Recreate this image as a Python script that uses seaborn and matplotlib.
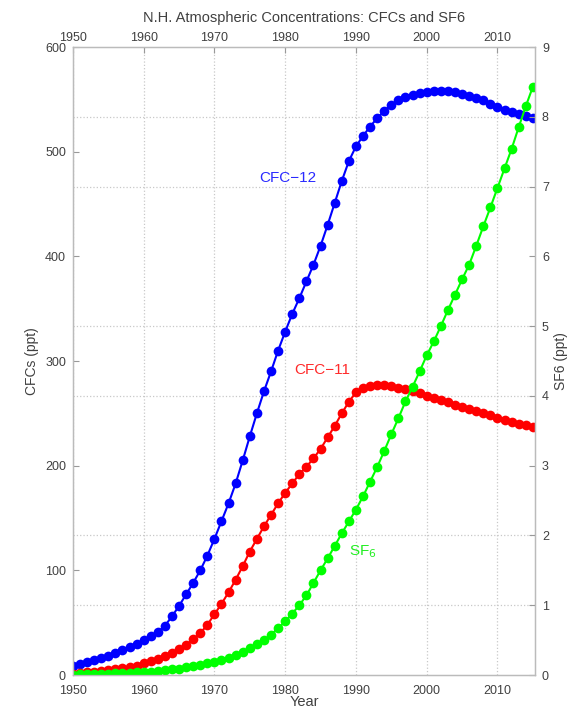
import matplotlib
matplotlib.use("Agg")
import matplotlib.pyplot as plt
from matplotlib.ticker import FixedLocator
import numpy as np
import pandas as pd
import seaborn as sns

# annual values
years = list(range(1950, 2016))
cfc12 = [9, 10.5, 12, 14, 16, 18, 21, 24, 27, 30,
         33, 37, 41, 47, 56, 66, 77, 88, 100, 114,
         130, 147, 164, 183, 205, 228, 250, 271, 290, 310,
         328, 345, 360, 376, 392, 410, 430, 451, 472, 491,
         505, 515, 524, 532, 539, 545, 549, 552, 554, 556,
         557, 558, 558, 558, 557, 555, 553, 551, 549, 546,
         543, 540, 538, 536, 534, 532]
cfc11 = [1, 2, 2.5, 3, 4, 4.5, 5.5, 6.5, 8, 9,
         11, 13, 15, 18, 21, 25, 29, 34, 40, 48,
         58, 68, 79, 91, 104, 118, 130, 142, 153, 164,
         174, 183, 192, 199, 207, 216, 227, 238, 250, 261,
         270, 274, 276, 277, 277, 276, 274, 273, 271, 269,
         267, 265, 263, 261, 258, 256, 254, 252, 250, 248,
         246, 244, 242, 240, 239, 237]
sf6 = [0.0, 0.01, 0.01, 0.015, 0.02, 0.02, 0.025, 0.03, 0.035, 0.04,
       0.045, 0.05, 0.06, 0.07, 0.08, 0.09, 0.11, 0.13, 0.15, 0.17,
       0.19, 0.22, 0.25, 0.29, 0.33, 0.38, 0.44, 0.50, 0.58, 0.67,
       0.77, 0.88, 1.00, 1.14, 1.32, 1.50, 1.67, 1.85, 2.03, 2.20,
       2.37, 2.56, 2.77, 2.98, 3.21, 3.45, 3.68, 3.92, 4.13, 4.35,
       4.58, 4.78, 5.00, 5.23, 5.45, 5.67, 5.88, 6.15, 6.43, 6.70,
       6.98, 7.26, 7.54, 7.85, 8.15, 8.43]
decades = list(range(1950, 2011, 10))

df = pd.DataFrame({"Year": years, "CFC-12": cfc12, "CFC-11": cfc11, "SF6": sf6})

sns.set_style("white")
plt.rcParams['font.family'] = ['Liberation Sans', 'DejaVu Sans']

fig = plt.figure(figsize=(5.74, 7.08), dpi=100)
ax = fig.add_axes([0.127, 0.0466, 0.805, 0.887])
ax2 = ax.twinx()

style = dict(marker='o', markersize=7, markeredgewidth=0, linewidth=1.5)
sns.lineplot(data=df, x="Year", y="CFC-12", ax=ax, color='#0000ff', **style)
sns.lineplot(data=df, x="Year", y="CFC-11", ax=ax, color='#ff0000', **style)
sns.lineplot(data=df, x="Year", y="SF6", ax=ax2, color='#00ff00', **style)

ax.set_xlim(1950, 2015.3)
ax.set_ylim(0, 600)
ax2.set_ylim(0, 9)
ax.set_xticks(decades)
ax.set_yticks(range(0, 601, 100))
ax2.set_yticks(range(0, 10))

# horizontal grid follows the right (SF6) axis ticks
ax.yaxis.set_minor_locator(FixedLocator(np.arange(1, 9) * 600 / 9))
ax.grid(which='minor', axis='y', linestyle=':', color='#c8c8c8', linewidth=0.9)
ax.grid(which='major', axis='x', linestyle=':', color='#c8c8c8', linewidth=0.9)
ax.tick_params(which='minor', length=0)

tick_col = '#404040'
ax.tick_params(axis='both', direction='in', length=4, color='#999999',
               labelsize=9, labelcolor=tick_col)
ax.tick_params(axis='x', pad=7, top=True)
ax.tick_params(axis='y', pad=5)
ax2.tick_params(axis='y', direction='in', length=4, color='#999999',
                labelsize=9, labelcolor=tick_col, pad=5)

# year labels repeated along the top
top = ax.secondary_xaxis('top')
top.set_xticks(decades)
top.tick_params(direction='in', length=0, pad=2, labelsize=9, labelcolor=tick_col)
top.spines['top'].set_visible(False)

for a in (ax, ax2):
    for s in a.spines.values():
        s.set_color('#bbbbbb')
        s.set_linewidth(0.9)

ax.set_xlabel("Year", fontsize=10.5, color=tick_col, labelpad=-1)
ax.set_ylabel("CFCs (ppt)", fontsize=10, color=tick_col, labelpad=4)
ax2.set_ylabel("SF6 (ppt)", fontsize=10, color=tick_col, labelpad=4)
ax.set_title("N.H. Atmospheric Concentrations: CFCs and SF6",
             fontsize=10.5, color=tick_col, pad=18)

ax.text(1976.4, 475, "CFC\u221212", color='#2a2aff', fontsize=11, va='center')
ax.text(1981.3, 291, "CFC\u221211", color='#ff2a2a', fontsize=11, va='center')
ax.text(1989.0, 118, "SF$_6$", color='#22ee22', fontsize=11, va='center')

fig.savefig("out.png", dpi=100)
